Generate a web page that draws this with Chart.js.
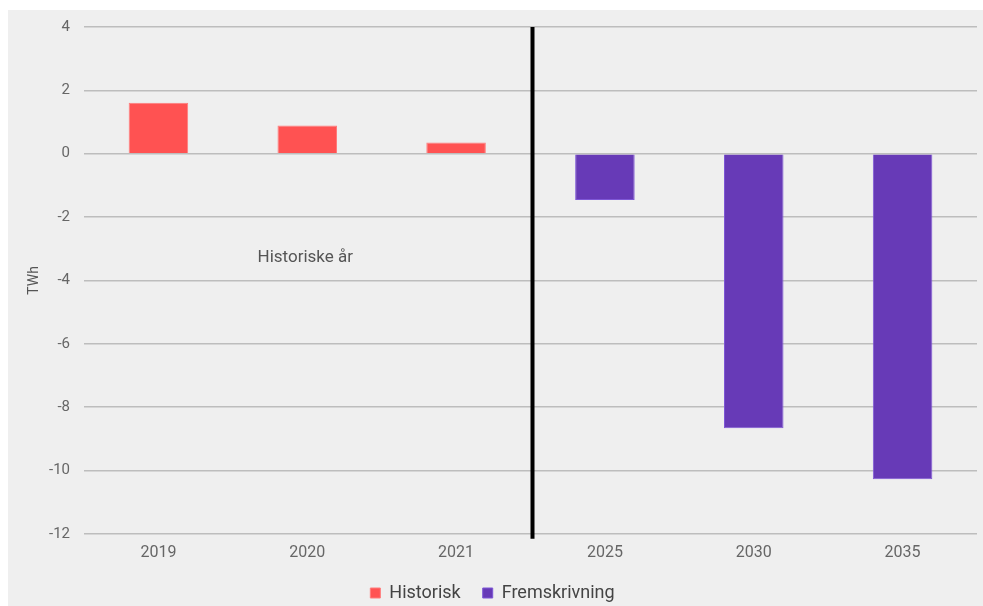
<!DOCTYPE html>
<html>
<head>
<meta charset="utf-8">
<script src="https://cdn.jsdelivr.net/npm/chart.js@4/dist/chart.umd.min.js"></script>
<style>
  html, body { margin: 0; padding: 0; background: #fff; }
  #wrap { position: absolute; left: 8px; top: 10px; width: 975px; height: 596px; background: #efefef; overflow: hidden; }
</style>
</head>
<body>
<div id="wrap"><canvas id="chart" width="975" height="602"></canvas></div>
<script>
// Data
const years = ['2019', '2020', '2021', '2025', '2030', '2035'];
const historisk = [1.61, 0.89, 0.35, null, null, null];
const fremskrivning = [null, null, null, -1.46, -8.67, -10.28];
const yTicks = [4, 2, 0, -2, -4, -6, -8, -10, -12];

// skillelinje mellom historiske år og fremskrivning + tekst
const dividerPlugin = {
    id: 'divider',
    afterDatasetsDraw(chart) {
        const ctx = chart.ctx;
        const x = chart.scales.x;
        const y = chart.scales.y;
        const xPos = (x.getPixelForValue(2) + x.getPixelForValue(3)) / 2 + 2;
        ctx.save();
        ctx.strokeStyle = '#000';
        ctx.lineWidth = 4;
        ctx.beginPath();
        ctx.moveTo(xPos, y.getPixelForValue(4));
        ctx.lineTo(xPos, y.getPixelForValue(-12) + 5);
        ctx.stroke();

        ctx.fillStyle = '#555';
        ctx.font = '17px Roboto';
        ctx.textAlign = 'center';
        ctx.textBaseline = 'middle';
        ctx.fillText('Historiske år', x.getPixelForValue(1) - 2, y.getPixelForValue(-3.28));
        ctx.restore();
    }
};

new Chart(document.getElementById('chart'), {
    type: 'bar',
    data: {
        labels: years,
        datasets: [{
            label: 'Historisk',
            data: historisk,
            backgroundColor: '#ff5252',
            borderColor: '#ff7b7b',
            borderWidth: 1,
            grouped: false,
            barPercentage: 0.4,
            categoryPercentage: 1
        }, {
            label: 'Fremskrivning',
            data: fremskrivning,
            backgroundColor: '#673ab7',
            borderColor: '#7e57d6',
            borderWidth: 1,
            grouped: false,
            barPercentage: 0.4,
            categoryPercentage: 1
        }]
    },
    options: {
        responsive: false,
        animation: false,
        layout: { padding: { top: 17, right: 6, left: 0, bottom: 0 } },
        plugins: {
            legend: {
                position: 'bottom',
                labels: {
                    font: { family: 'Roboto', size: 18 },
                    color: '#444',
                    boxWidth: 10,
                    boxHeight: 10,
                    padding: 22
                }
            },
            tooltip: { enabled: false }
        },
        scales: {
            x: {
                grid: { display: false, drawTicks: false },
                border: { display: false },
                ticks: { font: { family: 'Roboto', size: 16 }, color: '#666', padding: 10 },
                afterFit(scale) {
                    scale.height -= 11;
                }
            },
            y: {
                min: -12,
                max: 4,
                afterBuildTicks(scale) {
                    scale.ticks = yTicks.map(v => ({ value: v }));
                },
                afterFit(scale) {
                    scale.width = 76;
                    scale.paddingTop = 0;
                    scale.paddingBottom = 0;
                },
                grid: { color: '#bdbdbd', lineWidth: 1.5, drawTicks: false },
                border: { display: false },
                ticks: { font: { family: 'Roboto', size: 15 }, color: '#666', padding: 14 },
                title: {
                    display: true,
                    text: 'TWh',
                    font: { family: 'Roboto', size: 14 },
                    color: '#555',
                    padding: { top: 18, bottom: 0 }
                }
            }
        }
    },
    plugins: [dividerPlugin]
});
</script>
</body>
</html>
